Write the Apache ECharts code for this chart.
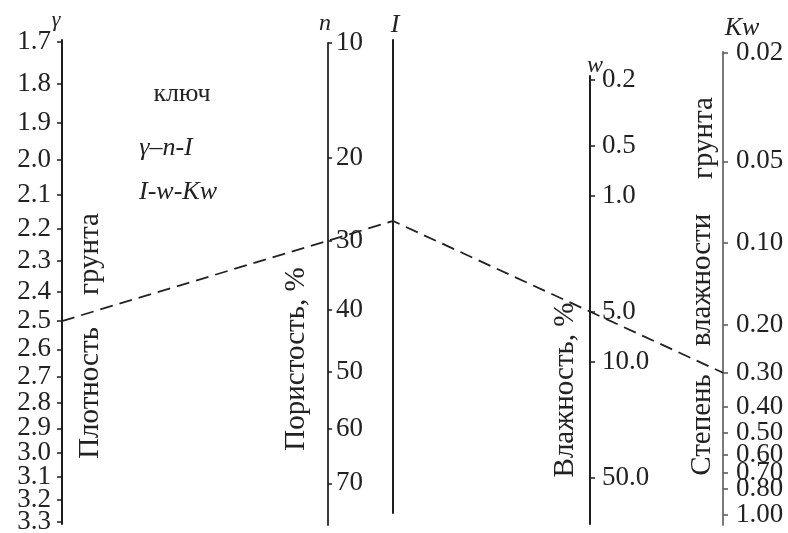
<!DOCTYPE html>
<html>
<head>
<meta charset="utf-8">
<title>Номограмма степени влажности грунта</title>
<script src="https://cdn.jsdelivr.net/npm/echarts@6/dist/echarts.min.js"></script>
<style>
  html, body { margin: 0; padding: 0; background: #fff; }
  #chart { width: 788px; height: 533px; }
</style>
</head>
<body>
<div id="chart"></div>
<script>
// Scale ticks of the nomogram
const densityTicks = [1.7, 1.8, 1.9, 2.0, 2.1, 2.2, 2.3, 2.4, 2.5, 2.6, 2.7, 2.8, 2.9, 3.0, 3.1, 3.2, 3.3];
const porosityTicks = [10, 20, 30, 40, 50, 60, 70];
const moistureTicks = [0.2, 0.5, 1.0, 5.0, 10.0, 50.0];
const saturationTicks = [0.02, 0.05, 0.10, 0.20, 0.30, 0.40, 0.50, 0.60, 0.70, 0.80, 1.00];

// Scale extents (value at the top and bottom end of each scale line)
const densityRange = [1.695, 3.31];
const porosityRange = [10, 78];
const moistureRange = [0.19, 95];
const saturationRange = [0.0198, 1.09];

// Worked example of the key: γ–n–I, then I–w–Kw
const keyDensity = 2.5;
const keyPorosity = 30;
const keyMoisture = 5.0;
const keySaturation = 0.30;

// Porosity scale is graduated as log10(n) + k·n
const porosityK = 0.01411;
const porosityPos = n => Math.log10(n) + porosityK * n;

const FONT = '"Liberation Serif", "Times New Roman", serif';
const INK = '#1e1e1e';
const TICK_FONT = 27;
const TITLE_FONT = 29;

const chart = echarts.init(document.getElementById('chart'), null, { renderer: 'canvas' });

const grids = [
  { left: 62, width: 10, top: 40, height: 484 },   // γ
  { left: 318, width: 10, top: 43, height: 482 },  // n
  { left: 393, width: 10, top: 40, height: 473 },  // I
  { left: 580, width: 10, top: 76, height: 448 },  // w
  { left: 713, width: 10, top: 52, height: 473 }   // Kw
].map(g => Object.assign({ outerBoundsMode: 'none', containLabel: false }, g));

// One graduated scale = a line with ticks, plus its labels split over two
// axes (even / odd ticks) so that tightly packed labels are all kept.
function scale(gi, s) {
  const common = {
    gridIndex: gi, type: s.type, position: s.position, inverse: true,
    min: s.min, max: s.max, splitLine: { show: false }, minorTick: { show: false }
  };
  const lbl = values => ({
    show: true, customValues: values, formatter: s.formatter, margin: s.margin,
    showMinLabel: true, showMaxLabel: true, hideOverlap: false,
    fontFamily: FONT, fontSize: TICK_FONT, color: '#222'
  });
  const even = s.ticks.filter((v, i) => i % 2 === 0);
  const odd = s.ticks.filter((v, i) => i % 2 === 1);
  return [
    Object.assign({}, common, {
      axisLine: { show: true, onZero: false, lineStyle: { color: s.color || INK, width: 2 } },
      axisTick: { show: true, length: s.tickLength || 5, customValues: s.ticks, lineStyle: { color: s.tickColor || INK, width: 1.5 } },
      axisLabel: lbl(even)
    }),
    Object.assign({}, common, {
      axisLine: { show: false, onZero: false },
      axisTick: { show: false },
      axisLabel: lbl(odd)
    })
  ];
}

const porosityLabel = v => {
  let best = porosityTicks[0];
  porosityTicks.forEach(n => {
    if (Math.abs(porosityPos(n) - v) < Math.abs(porosityPos(best) - v)) best = n;
  });
  return String(best);
};

const yAxes = [].concat(
  scale(0, {
    type: 'log', position: 'left', min: densityRange[0], max: densityRange[1],
    ticks: densityTicks, formatter: v => v.toFixed(1), margin: 11
  }),
  scale(1, {
    type: 'value', position: 'right',
    min: porosityPos(porosityRange[0]), max: porosityPos(porosityRange[1]),
    ticks: porosityTicks.map(porosityPos), formatter: porosityLabel, margin: 8,
    color: '#3a3a3a', tickLength: 4
  }),
  [{
    gridIndex: 2, type: 'value', position: 'left', inverse: true, min: 0, max: 1,
    splitLine: { show: false },
    axisLine: { show: true, onZero: false, lineStyle: { color: INK, width: 2 } },
    axisTick: { show: false }, axisLabel: { show: false }
  }],
  scale(3, {
    type: 'log', position: 'right', min: moistureRange[0], max: moistureRange[1],
    ticks: moistureTicks, formatter: v => v.toFixed(1), margin: 12
  }),
  scale(4, {
    type: 'log', position: 'right', min: saturationRange[0], max: saturationRange[1],
    ticks: saturationTicks, formatter: v => v.toFixed(2), margin: 13,
    color: '#7a7a7a', tickColor: '#555'
  })
);

// yAxis index carrying the line of each scale
const AX = { density: 0, porosity: 2, index: 4, moisture: 5, saturation: 7 };

chart.setOption({
  backgroundColor: '#fff',
  animation: false,
  grid: grids,
  xAxis: grids.map((g, i) => ({ gridIndex: i, type: 'value', min: 0, max: 1, show: false })),
  yAxis: yAxes,
  series: []
});

// Key line, placed through the library's own scales
const at = (gi, yi, x, v) => chart.convertToPixel({ xAxisIndex: gi, yAxisIndex: yi }, [x, v]);
const pDensity = at(0, AX.density, 0, keyDensity);
const pPorosity = at(1, AX.porosity, 1, porosityPos(keyPorosity));
const xPivot = at(2, AX.index, 0, 0.5)[0];
const yPivot = pDensity[1] + (pPorosity[1] - pDensity[1]) * (xPivot - pDensity[0]) / (pPorosity[0] - pDensity[0]);
const pSaturation = at(4, AX.saturation, 1, keySaturation);

function label(text, x, y, opts) {
  opts = opts || {};
  return {
    type: 'text', x: x, y: y, rotation: opts.rotate ? Math.PI / 2 : 0,
    style: {
      text: text, fill: '#222',
      font: (opts.italic ? 'italic ' : '') + (opts.size || TITLE_FONT) + 'px ' + FONT,
      textAlign: 'center', textVerticalAlign: 'middle'
    },
    z: 10
  };
}

chart.setOption({
  graphic: [
    {
      type: 'polyline',
      shape: { points: [pDensity, [xPivot, yPivot], pSaturation] },
      style: { stroke: '#222', lineWidth: 1.8, lineDash: [13, 7], fill: null },
      z: 5
    },
    // scale symbols
    label('γ', 56, 20, { italic: true, size: 22 }),
    label('n', 325, 24, { italic: true, size: 24 }),
    label('I', 395, 25, { italic: true, size: 26 }),
    label('w', 595, 66, { italic: true, size: 24 }),
    label('Kw', 742, 28, { italic: true, size: 26 }),
    // key
    label('ключ', 182, 94, { size: 26 }),
    label('γ–n-I', 166, 148, { italic: true, size: 26 }),
    label('I-w-Kw', 178, 192, { italic: true, size: 26 }),
    // scale titles
    label('Плотность', 90, 393, { rotate: true }),
    label('грунта', 90, 254, { rotate: true }),
    label('Пористость, %', 296, 359, { rotate: true }),
    label('Влажность, %', 565, 390, { rotate: true }),
    label('Степень', 702, 425, { rotate: true }),
    label('влажности', 702, 280, { rotate: true }),
    label('грунта', 704, 138, { rotate: true })
  ]
});
</script>
</body>
</html>
